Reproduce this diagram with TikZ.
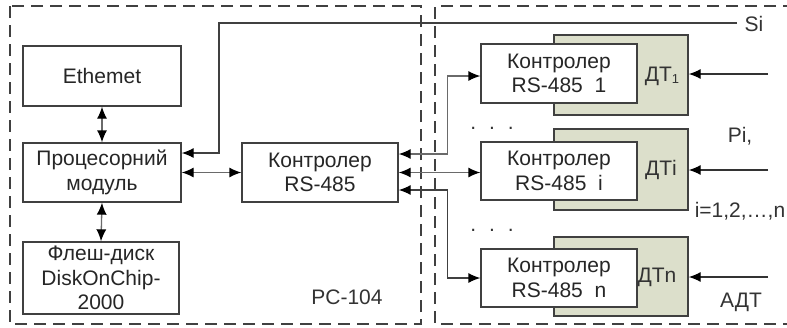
\documentclass[tikz,border=0pt]{standalone}
\usepackage{fontspec}
\setmainfont{Liberation Sans}
\usetikzlibrary{arrows.meta}
\definecolor{dtfill}{HTML}{DCDFCB}
\definecolor{boxline}{HTML}{404040}
\definecolor{connline}{HTML}{6A6A6A}
\tikzset{
  blk/.style={draw=boxline, line width=1.3pt, fill=white, align=center, inner sep=0pt,
    font=\fontsize{21}{24.5}\selectfont, text=black!85},
  dtbox/.style={draw=boxline, line width=1.3pt, fill=dtfill, inner sep=0pt,
    minimum width=134pt},
  conn/.style={draw=connline, line width=1.3pt, arrows={-}},
  inp/.style={draw=black!80, line width=1.3pt},
  tip/.tip={Latex[length=12pt,width=10pt,black]},
  frame/.style={draw=boxline, line width=1.8pt, dash pattern=on 12pt off 7pt},
  lbl/.style={font=\fontsize{21}{24.5}\selectfont, text=black!80, inner sep=0pt},
}
\begin{document}
\begin{tikzpicture}[x=1pt,y=-1pt]
\useasboundingbox (0,0) rectangle (787,327);
% frames
\draw[frame] (10,6) rectangle (421,324);
\draw[frame] (795,6) -- (435,6) -- (435,324) -- (795,324);

% left blocks
\node[blk, minimum width=158pt, minimum height=60pt] (Eth) at (102,76) {Ethemet};
\node[blk, minimum width=158pt, minimum height=59pt] (Proc) at (102,172.5) {Процесорний\\модуль};
\node[blk, minimum width=156pt, minimum height=72pt] (Flash) at (101,278) {Флеш-диск\\DiskOnChip-\\2000};
\node[blk, minimum width=156pt, minimum height=59pt] (Ctrl) at (320,172.5) {Контролер\\RS-485};
\node[lbl] (pc) at (347,297) {PC-104};

% sensor blocks
\node[dtbox, minimum height=80pt] (DT1) at (621,75) {};
\node[dtbox, minimum height=81pt] (DTi) at (621,169.5) {};
\node[dtbox, minimum height=79pt] (DTn) at (621,276.5) {};
\node[blk, minimum width=156pt, minimum height=59pt] (C1) at (559,73.5) {Контролер\\RS-485\ \ 1};
\node[blk, minimum width=156pt, minimum height=58pt] (Ci) at (559,171) {Контролер\\RS-485\ \ i};
\node[blk, minimum width=156pt, minimum height=58pt] (Cn) at (559,278) {Контролер\\RS-485\ \ n};
\node[lbl] (t1) at (662,76) {ДТ\raisebox{-0.25ex}{\fontsize{13}{15}\selectfont 1}};
\node[lbl] (ti) at (661,170) {ДТi};
\node[lbl] (tn) at (657,277) {ДТn};

% labels
\node[lbl] (si) at (754,24) {Si};
\node[lbl] (pi) at (740,136) {Pi,};
\node[lbl] (range) at (740,211) {i=1,2,…,n};
\node[lbl] (adt) at (741,302) {АДТ};
\node[lbl] (dots1) at (492,128) {.\hspace{13pt}.\hspace{13pt}.};
\node[lbl] (dots2) at (492,230) {.\hspace{13pt}.\hspace{13pt}.};

% internal connectors
\draw[conn, tip-tip] (Eth.south) -- (Proc.north);
\draw[conn, tip-tip] (Proc.south) -- (Flash.north);
\draw[conn, tip-tip] (Proc.east) -- (Ctrl.west);

% Si line
\coordinate (siend) at (737,23);
\draw[conn, draw=black!75, -tip] (siend) -- (219,23) -- (219,153) -- ([yshift=19.5pt]Proc.east);

% bus to controllers
\draw[conn, tip-tip] ([yshift=18.5pt]Ctrl.east) -- ++(49,0) |- ([yshift=-2.5pt]C1.west);
\draw[conn, tip-tip] (Ctrl.east) -- (Ctrl.east -| Ci.west);
\draw[conn, draw=black!75, tip-tip] ([yshift=-17.5pt]Ctrl.east) -- ++(49,0) |- (Cn.west);

% inputs
\coordinate (in1) at (768,74);
\coordinate (ini) at (768,170);
\coordinate (inn) at (768,277);
\draw[inp, -tip] (in1) -- (in1 -| DT1.east);
\draw[inp, -tip] (ini) -- (ini -| DTi.east);
\draw[inp, -tip] (inn) -- (inn -| DTn.east);
\end{tikzpicture}
\end{document}
